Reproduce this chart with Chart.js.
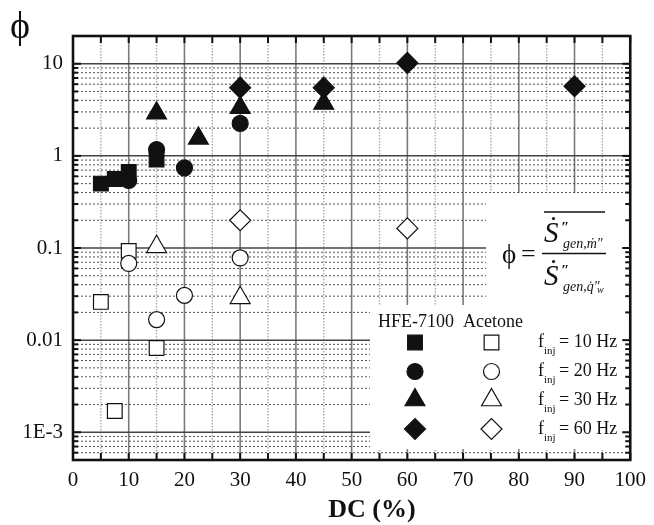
<!DOCTYPE html>
<html>
<head>
<meta charset="utf-8">
<script src="https://cdn.jsdelivr.net/npm/chart.js@4.4.0/dist/chart.umd.min.js"></script>
<style>
html, body { margin: 0; padding: 0; background: #fff; }
</style>
</head>
<body>
<canvas id="myChart" width="654" height="525"></canvas>
<script>
const ctx = document.getElementById("myChart").getContext("2d");
const serif = '"Liberation Serif", "Times New Roman", serif';

// duty cycle (%) and phi for each fluid / injection frequency
const hfe10x = [5, 7.5, 10, 15];
const hfe10y = [0.5, 0.56, 0.67, 0.91];
const hfe20x = [10, 15, 20, 30];
const hfe20y = [0.54, 1.17, 0.74, 2.25];
const hfe30x = [15, 22.5, 30, 45];
const hfe30y = [2.9, 1.55, 3.34, 3.7];
const hfe60x = [30, 45, 60, 90];
const hfe60y = [5.5, 5.5, 10.2, 5.7];

const ace10x = [5, 7.5, 10, 15];
const ace10y = [0.026, 0.0017, 0.093, 0.0082];
const ace20x = [10, 15, 20, 30];
const ace20y = [0.068, 0.0167, 0.0306, 0.078];
const ace30x = [15, 30];
const ace30y = [0.103, 0.0288];
const ace60x = [30, 60];
const ace60y = [0.2, 0.163];

const xTickValues = [0, 10, 20, 30, 40, 50, 60, 70, 80, 90, 100];
const xTickLabels = ['0', '10', '20', '30', '40', '50', '60', '70', '80', '90', '100'];
const yTickValues = [0.001, 0.01, 0.1, 1, 10];
const yTickLabels = ['1E-3', '0.01', '0.1', '1', '10'];

const freqLabels = ['10', '20', '30', '60'];
const shapes = ['rect', 'circle', 'triangle', 'rectRot'];
const radii = { rect: 10.4, circle: 8, triangle: 11.5, rectRot: 10.5 };

function pts(xs, ys) {
    return xs.map((x, i) => ({ x: x, y: ys[i] }));
}

function series(label, xs, ys, shape, filled, order) {
    return {
        label: label,
        data: pts(xs, ys),
        pointStyle: shape,
        pointRadius: radii[shape],
        pointHoverRadius: radii[shape],
        backgroundColor: filled ? '#111' : '#fff',
        borderColor: '#111',
        borderWidth: 1.2,
        showLine: false,
        order: order,
    };
}

const datasets = [
    series('HFE-7100 10 Hz', hfe10x, hfe10y, 'rect', true, 8),
    series('Acetone 10 Hz', ace10x, ace10y, 'rect', false, 7),
    series('HFE-7100 20 Hz', hfe20x, hfe20y, 'circle', true, 6),
    series('Acetone 20 Hz', ace20x, ace20y, 'circle', false, 5),
    series('HFE-7100 30 Hz', hfe30x, hfe30y, 'triangle', true, 4),
    series('Acetone 30 Hz', ace30x, ace30y, 'triangle', false, 3),
    series('HFE-7100 60 Hz', hfe60x, hfe60y, 'rectRot', true, 2),
    series('Acetone 60 Hz', ace60x, ace60y, 'rectRot', false, 1),
];

function line(c, x1, y1, x2, y2) {
    c.beginPath();
    c.moveTo(x1, y1);
    c.lineTo(x2, y2);
    c.stroke();
}

function minorValues(scale) {
    const out = [];
    for (let e = -4; e <= 1; e++) {
        for (let m = 1; m <= 9; m++) {
            const v = m * Math.pow(10, e);
            if (v >= scale.min && v <= scale.max) out.push({ v: v, major: m === 1 });
        }
    }
    return out;
}

const framePlugin = {
    id: 'frame',
    beforeDatasetsDraw(chart) {
        const c = chart.ctx;
        const { left, right, top, bottom } = chart.chartArea;
        const xs = chart.scales.x, ys = chart.scales.y;
        c.save();
        // vertical grid
        for (let v = 5; v < 100; v += 5) {
            const px = xs.getPixelForValue(v);
            if (v % 10 === 0) {
                c.strokeStyle = '#7a7a7a'; c.lineWidth = 1.6; c.setLineDash([]);
            } else {
                c.strokeStyle = '#aaa'; c.lineWidth = 1.4; c.setLineDash([1.5, 1.5]);
            }
            line(c, px, top, px, bottom);
        }
        // horizontal grid
        minorValues(ys).forEach(t => {
            const py = ys.getPixelForValue(t.v);
            if (t.major) {
                c.strokeStyle = '#444'; c.lineWidth = 1.5; c.setLineDash([]);
            } else {
                c.strokeStyle = '#555'; c.lineWidth = 1; c.setLineDash([2, 2]);
            }
            line(c, left, py, right, py);
        });
        c.setLineDash([]);
        // white panels behind formula and legend
        c.fillStyle = '#fff';
        c.fillRect(486, 193, right - 486, 112);
        c.fillRect(370, 305, right - 370, 144);
        c.restore();
    },
    afterDatasetsDraw(chart) {
        const c = chart.ctx;
        const { left, right, top, bottom } = chart.chartArea;
        const xs = chart.scales.x, ys = chart.scales.y;
        c.save();
        c.strokeStyle = '#111';
        c.setLineDash([]);
        // ticks, inward on all sides
        c.lineWidth = 2;
        for (let v = 0; v <= 100; v += 5) {
            const px = xs.getPixelForValue(v);
            line(c, px, bottom, px, bottom - 7);
            line(c, px, top, px, top + 7);
        }
        minorValues(ys).forEach(t => {
            const py = ys.getPixelForValue(t.v);
            const len = t.major ? 8 : 5;
            line(c, left, py, left + len, py);
            line(c, right, py, right - len, py);
        });
        // frame
        c.lineWidth = 2.6;
        c.strokeRect(left, top, right - left, bottom - top);

        c.fillStyle = '#111';
        // axis titles
        c.textAlign = 'center';
        c.textBaseline = 'alphabetic';
        c.font = 'bold 26px ' + serif;
        c.fillText('DC (%)', 372, 517);
        c.font = '38px ' + serif;
        c.fillText('\u03d5', 20, 38);

        // formula
        c.font = '27px ' + serif;
        c.textAlign = 'left';
        c.fillText('\u03d5', 502, 263);
        c.font = '26px ' + serif;
        c.fillText('=', 521, 262);
        c.lineWidth = 1.3;
        line(c, 542, 253.5, 606, 253.5);
        line(c, 544, 212, 605, 212);
        const drawS = (y0, sub) => {
            c.font = 'italic 29px ' + serif;
            c.fillText('S', 544, y0);
            c.beginPath();
            c.arc(553.5, y0 - 23.5, 1.6, 0, Math.PI * 2);
            c.fill();
            c.font = 'italic bold 15px ' + serif;
            c.fillText('\u2033', 561, y0 - 10);
            c.font = 'italic 14px ' + serif;
            c.fillText(sub, 563, y0 + 6);
        };
        drawS(242, 'gen,\u1e41\u2033');
        drawS(285, 'gen,q\u0307\u2033');
        c.font = 'italic 10px ' + serif;
        c.fillText('w', 597, 293);

        // legend
        c.font = '18px ' + serif;
        c.fillText('HFE-7100', 378, 327);
        c.fillText('Acetone', 463, 327);
        const rowY = [342.5, 371.5, 400, 429];
        shapes.forEach((s, i) => {
            const y = rowY[i];
            const opt = { pointStyle: s, radius: radii[s], borderWidth: 1.2, rotation: 0 };
            c.strokeStyle = '#111';
            c.lineWidth = 1.2;
            c.fillStyle = '#111';
            Chart.helpers.drawPoint(c, opt, 415, y);
            c.fillStyle = '#fff';
            Chart.helpers.drawPoint(c, opt, 491.5, y);
            c.fillStyle = '#111';
            c.textBaseline = 'middle';
            c.font = '18px ' + serif;
            c.fillText('f', 538, y);
            c.font = '11px ' + serif;
            c.fillText('inj', 544, y + 9);
            c.font = '18px ' + serif;
            c.fillText('= ' + freqLabels[i] + ' Hz', 559, y);
        });
        c.restore();
    }
};

const config = {
    type: 'scatter',
    data: { datasets: datasets },
    options: {
        responsive: false,
        animation: false,
        layout: { padding: { top: 36, right: 20, left: 0, bottom: 0 } },
        plugins: {
            legend: { display: false },
            tooltip: { enabled: false },
        },
        scales: {
            x: {
                type: 'linear',
                min: 0,
                max: 100,
                grid: { display: false, drawTicks: false },
                border: { display: false },
                afterBuildTicks: s => { s.ticks = xTickValues.map(v => ({ value: v })); },
                afterFit: s => { s.height = 65; },
                ticks: {
                    autoSkip: false,
                    maxRotation: 0,
                    padding: 8,
                    color: '#111',
                    font: { family: serif, size: 21 },
                    callback: v => xTickLabels[xTickValues.indexOf(v)],
                },
            },
            y: {
                type: 'logarithmic',
                min: 0.0005,
                max: 20,
                grid: { display: false, drawTicks: false },
                border: { display: false },
                afterBuildTicks: s => { s.ticks = yTickValues.map(v => ({ value: v })); },
                afterFit: s => { s.width = 73; },
                ticks: {
                    autoSkip: false,
                    padding: 10,
                    color: '#111',
                    font: { family: serif, size: 21 },
                    callback: v => yTickLabels[yTickValues.indexOf(v)],
                },
            },
        },
    },
    plugins: [framePlugin],
};

const myChart = new Chart(ctx, config);
</script>
</body>
</html>
